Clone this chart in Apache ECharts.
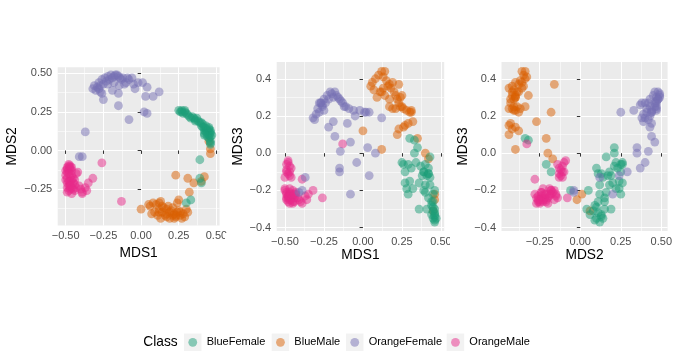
<!DOCTYPE html>
<html>
<head>
<meta charset="utf-8">
<script src="https://cdn.jsdelivr.net/npm/echarts@6/dist/echarts.min.js"></script>
<style>
  html, body { margin: 0; padding: 0; background: #fff; }
  #chart { width: 675px; height: 360px; }
</style>
</head>
<body>
<div id="chart"></div>
<script>
// [MDS1, MDS2, MDS3] for each crab
const blueMale = [
    [0.06, -0.36, 0.38], [0.08, -0.34, 0.40], [0.10, -0.35, 0.42], [0.12, -0.34, 0.44], [0.14, -0.36, 0.44],
    [0.13, -0.33, 0.41], [0.15, -0.37, 0.39], [0.17, -0.38, 0.37], [0.18, -0.36, 0.35], [0.19, -0.40, 0.38],
    [0.20, -0.39, 0.33], [0.16, -0.42, 0.36], [0.09, -0.40, 0.30], [0.11, -0.42, 0.33], [0.13, -0.44, 0.35],
    [0.07, -0.41, 0.34], [0.21, -0.42, 0.31], [0.22, -0.41, 0.29], [0.24, -0.40, 0.30], [0.23, -0.43, 0.27],
    [0.25, -0.39, 0.25], [0.26, -0.42, 0.24], [0.28, -0.41, 0.23], [0.30, -0.38, 0.22], [0.31, -0.40, 0.23],
    [0.27, -0.44, 0.15], [0.29, -0.43, 0.16], [0.26, -0.40, 0.14], [0.22, -0.44, 0.10], [0.23, -0.42, 0.13],
    [0.19, -0.44, 0.24], [0.17, -0.43, 0.29], [0.14, -0.40, 0.31], [0.12, -0.38, 0.33], [0.05, -0.35, 0.36],
    [0.00, -0.38, 0.12], [0.12, -0.40, 0.02], [0.24, -0.34, 0.25], [0.23, -0.16, 0.37], [0.31, -0.18, 0.22],
    [0.35, -0.21, 0.08], [0.42, -0.17, -0.03], [0.40, -0.20, 0.00], [0.32, -0.27, 0.17], [0.46, 0.01, -0.22],
    [0.46, -0.02, -0.25], [0.45, 0.06, -0.31], [0.25, -0.32, 0.31], [0.17, -0.41, 0.25], [0.21, -0.37, 0.24]
];
const blueFemale = [
    [0.25, 0.26, -0.05], [0.26, 0.25, -0.06], [0.27, 0.26, -0.16], [0.28, 0.24, -0.19], [0.29, 0.25, -0.22],
    [0.30, 0.24, -0.15], [0.31, 0.23, -0.08], [0.32, 0.22, -0.19], [0.33, 0.21, 0.00], [0.34, 0.22, -0.05],
    [0.35, 0.21, 0.03], [0.36, 0.20, -0.16], [0.37, 0.21, -0.07], [0.36, 0.19, -0.30], [0.38, 0.19, -0.12],
    [0.39, 0.18, -0.10], [0.40, 0.18, -0.17], [0.40, 0.16, -0.21], [0.41, 0.17, -0.12], [0.41, 0.15, -0.30],
    [0.42, 0.15, -0.24], [0.42, 0.13, -0.11], [0.43, 0.14, -0.13], [0.43, 0.12, -0.17], [0.44, 0.13, -0.33],
    [0.44, 0.11, -0.26], [0.45, 0.12, -0.22], [0.45, 0.10, -0.29], [0.45, 0.14, -0.35], [0.46, 0.11, -0.32],
    [0.46, 0.09, -0.36], [0.46, 0.12, -0.37], [0.45, 0.08, -0.31], [0.46, 0.13, -0.34], [0.47, 0.10, -0.35],
    [0.44, 0.09, -0.28], [0.46, 0.06, -0.33], [0.46, 0.04, -0.30], [0.45, 0.15, -0.26], [0.43, 0.16, -0.02],
    [0.42, 0.10, -0.08], [0.42, 0.11, -0.11], [0.27, 0.25, -0.10], [0.29, 0.26, -0.06], [0.39, -0.18, -0.10],
    [0.40, -0.21, -0.06], [0.33, -0.32, 0.07], [0.30, -0.34, 0.08], [0.39, -0.06, -0.20], [0.46, 0.05, -0.20]
];
const orangeMale = [
    [-0.48, -0.10, -0.05], [-0.47, -0.11, -0.07], [-0.49, -0.12, -0.09], [-0.48, -0.13, -0.11], [-0.47, -0.12, -0.12],
    [-0.49, -0.11, -0.10], [-0.48, -0.09, -0.04], [-0.46, -0.13, -0.08], [-0.50, -0.13, -0.13], [-0.47, -0.10, -0.10],
    [-0.49, -0.14, -0.06], [-0.46, -0.11, -0.13], [-0.50, -0.16, -0.20], [-0.49, -0.18, -0.22], [-0.48, -0.20, -0.24],
    [-0.47, -0.17, -0.21], [-0.46, -0.19, -0.23], [-0.49, -0.21, -0.25], [-0.48, -0.23, -0.26], [-0.47, -0.22, -0.22],
    [-0.50, -0.19, -0.19], [-0.46, -0.24, -0.24], [-0.45, -0.21, -0.26], [-0.48, -0.15, -0.23], [-0.47, -0.25, -0.25],
    [-0.49, -0.24, -0.21], [-0.46, -0.16, -0.25], [-0.45, -0.18, -0.20], [-0.48, -0.26, -0.23], [-0.47, -0.20, -0.27],
    [-0.44, -0.22, -0.24], [-0.43, -0.15, -0.22], [-0.42, -0.14, -0.24], [-0.44, -0.26, -0.26], [-0.43, -0.24, -0.21],
    [-0.49, -0.27, -0.24], [-0.46, -0.28, -0.22], [-0.45, -0.25, -0.27], [-0.47, -0.23, -0.19], [-0.44, -0.19, -0.22],
    [-0.41, -0.23, -0.25], [-0.39, -0.28, -0.14], [-0.40, -0.25, -0.26], [-0.39, -0.27, -0.27], [-0.37, -0.24, -0.23],
    [-0.36, -0.26, -0.25], [-0.32, -0.18, -0.20], [-0.35, -0.21, -0.22], [-0.26, -0.08, -0.24], [-0.13, -0.33, 0.05]
];
const orangeFemale = [
    [-0.32, 0.40, 0.19], [-0.31, 0.42, 0.18], [-0.30, 0.39, 0.21], [-0.29, 0.41, 0.24], [-0.28, 0.44, 0.22],
    [-0.27, 0.42, 0.27], [-0.26, 0.46, 0.25], [-0.25, 0.43, 0.29], [-0.24, 0.47, 0.27], [-0.23, 0.45, 0.31],
    [-0.22, 0.48, 0.29], [-0.21, 0.46, 0.33], [-0.20, 0.49, 0.32], [-0.19, 0.47, 0.30], [-0.18, 0.48, 0.33],
    [-0.17, 0.49, 0.31], [-0.16, 0.49, 0.30], [-0.15, 0.48, 0.29], [-0.14, 0.47, 0.28], [-0.13, 0.46, 0.27],
    [-0.12, 0.47, 0.25], [-0.11, 0.43, 0.25], [-0.09, 0.47, 0.24], [-0.06, 0.47, 0.23], [-0.02, 0.44, 0.23],
    [0.01, 0.44, 0.22], [0.04, 0.41, 0.22], [-0.04, 0.40, -0.05], [-0.26, 0.37, 0.26], [-0.25, 0.33, 0.23],
    [-0.19, 0.39, 0.17], [-0.15, 0.37, -0.08], [-0.15, 0.29, -0.10], [-0.08, 0.20, -0.22], [0.02, 0.25, 0.22],
    [0.04, 0.24, -0.12], [0.03, 0.35, 0.03], [0.08, 0.35, 0.00], [0.12, 0.38, 0.19], [-0.37, 0.12, -0.13],
    [-0.41, -0.04, -0.21], [-0.39, -0.04, -0.20], [-0.22, 0.43, 0.14], [-0.18, 0.44, 0.09], [-0.08, 0.46, 0.06],
    [-0.145, 0.42, 0.01], [-0.27, 0.38, 0.27], [-0.28, 0.40, 0.27], [-0.10, 0.44, 0.16], [-0.05, 0.43, 0.20]
];

const legendNames = ['BlueFemale', 'BlueMale', 'OrangeFemale', 'OrangeMale'];
const drawOrder = ['BlueMale', 'BlueFemale', 'OrangeMale', 'OrangeFemale'];
const classData = { BlueMale: blueMale, BlueFemale: blueFemale, OrangeMale: orangeMale, OrangeFemale: orangeFemale };
const classColors = { BlueFemale: '#1B9E77', BlueMale: '#D95F02', OrangeFemale: '#7570B3', OrangeMale: '#E7298A' };

const mds1Ticks = [-0.5, -0.25, 0, 0.25, 0.5];
const mds2Ticks = [-0.25, 0, 0.25, 0.5];
const mds3Ticks = [-0.4, -0.2, 0, 0.2, 0.4];

// axis limits (data range plus ggplot's 5% padding)
const mds1Range = [-0.553, 0.521];
const mds2Range = [-0.486, 0.539];
const mds3Range = [-0.418, 0.49];

const FONT = '"Liberation Sans", Arial, Helvetica, sans-serif';

const dims = {
    MDS1: { col: 0, ticks: mds1Ticks, range: mds1Range, digits: 2 },
    MDS2: { col: 1, ticks: mds2Ticks, range: mds2Range, digits: 2 },
    MDS3: { col: 2, ticks: mds3Ticks, range: mds3Range, digits: 1 }
};

const panels = [
    { x: 'MDS1', y: 'MDS2', grid: { left: 57.7, top: 67.3, width: 161.9, height: 158.2 }, xGap: 21, yGap: 38 },
    { x: 'MDS1', y: 'MDS3', grid: { left: 276.7, top: 62, width: 167.5, height: 169 }, xGap: 15, yGap: 31.5 },
    { x: 'MDS2', y: 'MDS3', grid: { left: 501.5, top: 62, width: 167.2, height: 169 }, xGap: 15, yGap: 31.5 }
];

function fmt(digits) {
    return function (v) {
        return (v < 0 ? '\u2212' : '') + Math.abs(v).toFixed(digits);
    };
}

// minor grid values sit halfway between the major ticks
function minorOf(ticks, range) {
    const step = ticks[1] - ticks[0];
    const out = [];
    for (let v = ticks[0] - step / 2; v <= range[1] + 1e-9; v += step) {
        if (v >= range[0]) out.push(+v.toFixed(4));
    }
    return out;
}

function makeAxes(dim, gridIndex, gap, isY) {
    const d = dims[dim];
    const major = {
        type: 'value',
        gridIndex: gridIndex,
        min: d.range[0],
        max: d.range[1],
        name: dim,
        nameLocation: 'middle',
        nameGap: gap,
        nameTextStyle: { color: '#000', fontSize: 13.75, fontFamily: FONT },
        axisLine: { show: false },
        axisTick: { show: true, length: 3.4, customValues: d.ticks, lineStyle: { color: '#333333', width: 1 } },
        axisLabel: {
            customValues: d.ticks,
            formatter: fmt(d.digits),
            color: '#4D4D4D',
            fontSize: 11,
            fontFamily: FONT,
            margin: isY ? 5.5 : 5
        },
        splitLine: { show: true, lineStyle: { color: '#FFFFFF', width: 1.1 } }
    };
    const minor = {
        type: 'value',
        gridIndex: gridIndex,
        min: d.range[0],
        max: d.range[1],
        axisLine: { show: false },
        axisTick: { show: false, customValues: minorOf(d.ticks, d.range) },
        axisLabel: { show: false },
        splitLine: { show: true, lineStyle: { color: '#FFFFFF', width: 0.55 } }
    };
    return [major, minor];
}

const grids = [];
const xAxes = [];
const yAxes = [];
const series = [];

panels.forEach(function (p, pi) {
    grids.push(Object.assign({ show: true, backgroundColor: '#EBEBEB', borderWidth: 0, containLabel: false }, p.grid));
    xAxes.push.apply(xAxes, makeAxes(p.x, pi, p.xGap, false));
    yAxes.push.apply(yAxes, makeAxes(p.y, pi, p.yGap, true));
    drawOrder.forEach(function (name, di) {
        series.push({
            type: 'scatter',
            name: name,
            datasetIndex: di,
            xAxisIndex: pi * 2,
            yAxisIndex: pi * 2,
            encode: { x: dims[p.x].col, y: dims[p.y].col },
            symbolSize: 8.8,
            itemStyle: { color: classColors[name], opacity: 0.5 },
            emphasis: { disabled: true }
        });
    });
});

// one legend per key so each sits where ggplot put it; grey key squares behind the dots
const keyLefts = [184, 271.7, 346, 446.7];
const KEY = 17.5;
const DOT = 8.8;
const legends = legendNames.map(function (name, i) {
    return {
        data: [name],
        left: keyLefts[i] + (KEY - DOT) / 2,
        top: 335.3,
        padding: 0,
        itemWidth: DOT,
        itemHeight: DOT,
        icon: 'circle',
        itemStyle: { opacity: 0.5 },
        selectedMode: false,
        textStyle: { color: '#000', fontSize: 11, fontFamily: FONT, lineHeight: 14, padding: [0, 0, 0, 4.5] }
    };
});

const keyBoxes = keyLefts.map(function (x) {
    return { type: 'rect', z: -1, shape: { x: x, y: 342.3 - KEY / 2, width: KEY, height: KEY }, style: { fill: '#F2F2F2' } };
});
// ggplot clips the last x label of the first two plots at their viewport edge
const clips = [225, 450].map(function (x) {
    return { type: 'rect', z: 100, shape: { x: x, y: 233, width: 18, height: 14 }, style: { fill: '#FFFFFF' } };
});

const myChart = echarts.init(document.getElementById('chart'));
myChart.setOption({
    animation: false,
    backgroundColor: '#FFFFFF',
    title: {
        text: 'Class',
        left: 143.3,
        top: 335.4,
        padding: 0,
        textStyle: { color: '#000', fontSize: 13.75, fontWeight: 'normal', fontFamily: FONT }
    },
    legend: legends,
    graphic: keyBoxes.concat(clips),
    dataset: drawOrder.map(function (name) {
        return { source: classData[name], sourceHeader: false };
    }),
    grid: grids,
    xAxis: xAxes,
    yAxis: yAxes,
    series: series
});
</script>
</body>
</html>
